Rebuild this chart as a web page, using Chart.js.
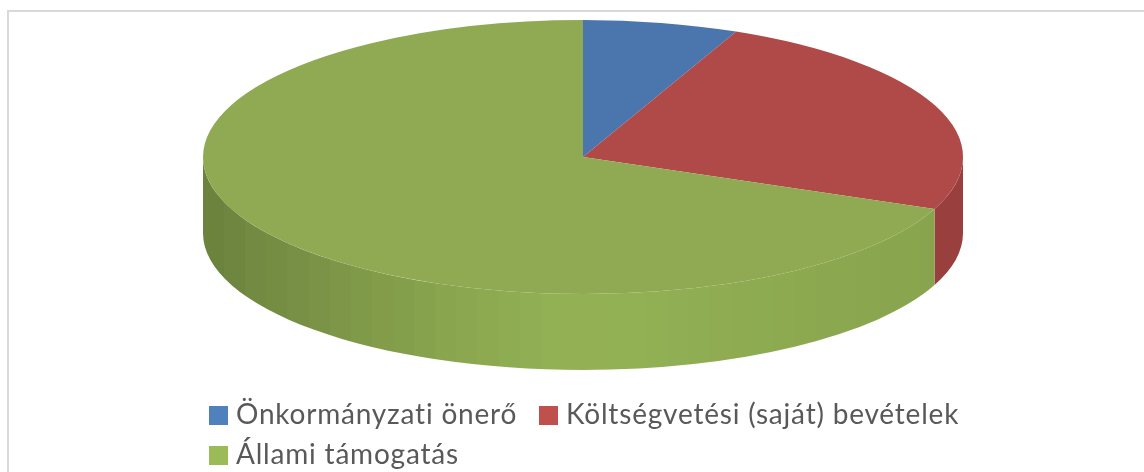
<!DOCTYPE html>
<html lang="hu">
<head>
  <meta charset="UTF-8" />
  <title>Pie</title>
  <script src="https://cdn.jsdelivr.net/npm/chart.js"></script>
  <style>
    html, body { margin: 0; padding: 0; background: #fff; }
    #wrap { position: relative; width: 1144px; height: 472px; overflow: hidden; }
    #frame {
      position: absolute; left: 7px; top: 10px; right: -4px; bottom: -4px;
      border: 2px solid #d9d9d9;
    }
    canvas { position: absolute; left: 0; top: 0; }
    .legend-item {
      position: absolute; white-space: nowrap;
      font-family: Lato, sans-serif; font-size: 28px; line-height: 34px; color: #595959;
      letter-spacing: 0.8px;
    }
    .legend-item i {
      position: absolute; left: -27px; top: 10px; width: 19px; height: 19px;
    }
  </style>
</head>
<body>
  <div id="wrap">
    <div id="frame"></div>
    <canvas id="pie" width="1144" height="472"></canvas>
    <div id="legend"></div>
  </div>

  <script>
    const categories = ["Önkormányzati önerő", "Költségvetési (saját) bevételek", "Állami támogatás"];
    const values = [6.6, 24.6, 68.8];
    const topColors = ["#4a76ad", "#b04a48", "#8faa52"];
    const legendColors = ["#4f81bd", "#c0504d", "#9bbb59"];
    const sideColors = [[79, 129, 189], [175, 72, 70], [155, 187, 89]];

    const SQUASH = 137 / 380;
    const DEPTH = 76;
    const BANDS = 36;

    // wall shading, t runs from -1 (left rim) to 1 (right rim)
    function bandColor(rgb, t) {
      const f = t < 0 ? 0.95 - 0.26 * Math.pow(-t, 1.3) : 0.95 - 0.08 * t;
      return `rgb(${rgb.map(c => Math.round(c * f)).join(",")})`;
    }

    // tilted disc: side wall first, then the pie squashed into an ellipse
    const tiltPlugin = {
      id: "tilt",
      beforeDatasetsDraw(chart) {
        const ctx = chart.ctx;
        const arcs = chart.getDatasetMeta(0).data;
        arcs.forEach((arc, i) => {
          const a0 = Math.max(arc.startAngle, 0);
          const a1 = Math.min(arc.endAngle, Math.PI);
          if (a1 <= a0) return;
          const rx = arc.outerRadius, ry = rx * SQUASH;
          const grad = ctx.createLinearGradient(arc.x - rx, 0, arc.x + rx, 0);
          for (let b = 0; b < BANDS; b++) {
            const col = bandColor(sideColors[i], (b + 0.5) / BANDS * 2 - 1);
            grad.addColorStop(b / BANDS, col);
            grad.addColorStop((b + 1) / BANDS, col);
          }
          ctx.beginPath();
          ctx.ellipse(arc.x, arc.y, rx, ry, 0, a0, a1);
          ctx.ellipse(arc.x, arc.y + DEPTH, rx, ry, 0, a1, a0, true);
          ctx.closePath();
          ctx.fillStyle = grad;
          ctx.fill();
        });
        const c = arcs[0];
        ctx.save();
        ctx.translate(c.x, c.y);
        ctx.scale(1, SQUASH);
        ctx.translate(-c.x, -c.y);
      },
      afterDatasetsDraw(chart) {
        chart.ctx.restore();
      }
    };

    new Chart(document.getElementById("pie"), {
      type: "pie",
      data: {
        labels: categories,
        datasets: [{
          data: values,
          backgroundColor: topColors,
          borderWidth: 0,
          radius: 380
        }]
      },
      options: {
        responsive: false,
        animation: false,
        layout: { padding: { left: 22, bottom: 158 } },
        plugins: { legend: { display: false }, tooltip: { enabled: false } }
      },
      plugins: [tiltPlugin]
    });

    // legend wraps like the original, so it is laid out by hand
    const legendSpots = [[236, 396], [566, 396], [236, 436]];
    categories.forEach((name, i) => {
      const item = document.createElement("div");
      item.className = "legend-item";
      item.style.left = legendSpots[i][0] + "px";
      item.style.top = legendSpots[i][1] + "px";
      item.innerHTML = `<i style="background:${legendColors[i]}"></i>${name}`;
      document.getElementById("legend").appendChild(item);
    });
  </script>
</body>
</html>
